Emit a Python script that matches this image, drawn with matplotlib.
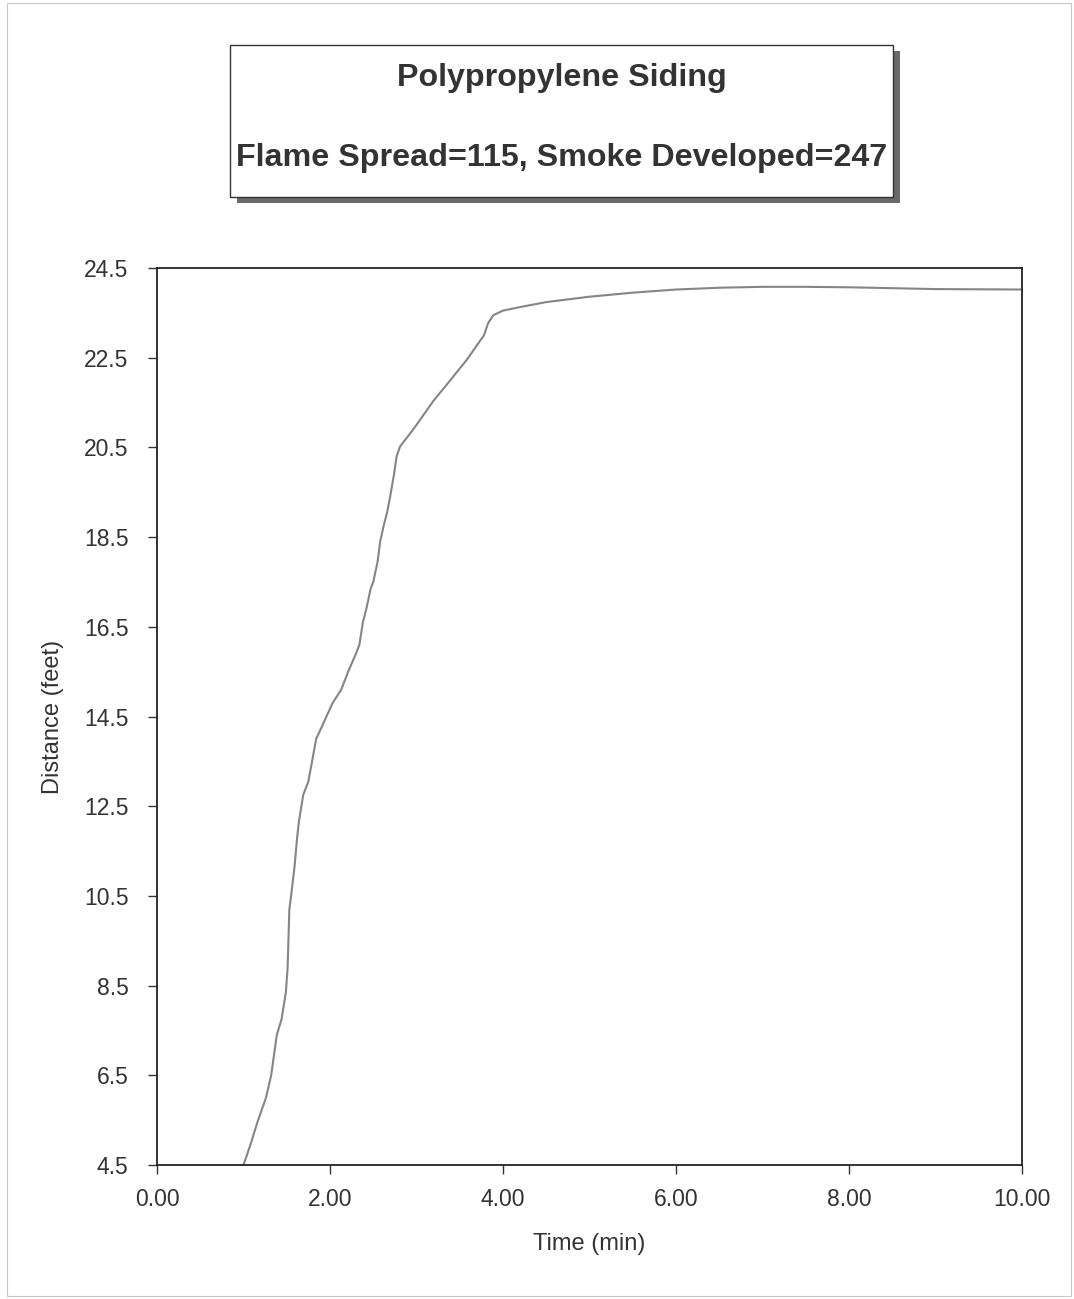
import numpy as np
import matplotlib.pyplot as plt
from matplotlib.patches import Rectangle

plt.rcParams['font.family'] = ['Liberation Sans', 'DejaVu Sans']

# flame front distance vs time
time_min = [1.00, 1.08, 1.16, 1.26, 1.32, 1.385, 1.44, 1.49, 1.51, 1.53, 1.55,
            1.59, 1.62, 1.64, 1.69, 1.75, 1.84, 1.90, 2.03, 2.13, 2.21, 2.30,
            2.34, 2.38, 2.42, 2.47, 2.50, 2.55, 2.58, 2.62, 2.66, 2.70, 2.74,
            2.77, 2.81, 2.97, 3.20, 3.35, 3.58, 3.66, 3.78, 3.83, 3.89, 4.00,
            4.20, 4.50, 5.00, 5.50, 6.00, 6.50, 7.00, 7.50, 8.00, 8.50, 9.00,
            10.00]
distance_ft = [4.5, 4.95, 5.45, 6.0, 6.5, 7.4, 7.75, 8.35, 8.9, 10.2, 10.5,
               11.15, 11.8, 12.15, 12.75, 13.05, 14.0, 14.25, 14.8, 15.1, 15.5, 15.9,
               16.1, 16.6, 16.9, 17.35, 17.5, 17.95, 18.4, 18.75, 19.05, 19.45, 19.9,
               20.3, 20.52, 20.92, 21.55, 21.9, 22.45, 22.67, 23.0, 23.28, 23.45, 23.55,
               23.63, 23.74, 23.86, 23.95, 24.02, 24.06, 24.08, 24.08, 24.07, 24.05, 24.03,
               24.02]

title1 = 'Polypropylene Siding'
title2 = 'Flame Spread=115, Smoke Developed=247'
x_ticks = [0, 2, 4, 6, 8, 10]
y_ticks = [4.5, 6.5, 8.5, 10.5, 12.5, 14.5, 16.5, 18.5, 20.5, 22.5, 24.5]

W, H = 1074, 1299
fig = plt.figure(figsize=(W / 100, H / 100), dpi=100)
fig.patch.set_facecolor('white')

# light border round the page
fig.add_artist(Rectangle((7 / W, 3 / H), 1064 / W, 1293 / H, transform=fig.transFigure,
                         fill=False, edgecolor='#c8c8c8', linewidth=0.8))

# title box with drop shadow
bx0, bx1, by0, by1 = 230, 893, 45, 197
fig.add_artist(Rectangle(((bx0 + 7) / W, 1 - (by1 + 6) / H), (bx1 - bx0) / W, (by1 - by0) / H,
                         transform=fig.transFigure, facecolor='#6a6a6a', edgecolor='none'))
fig.add_artist(Rectangle((bx0 / W, 1 - by1 / H), (bx1 - bx0) / W, (by1 - by0) / H,
                         transform=fig.transFigure, facecolor='white', edgecolor='#333333',
                         linewidth=1.0))
fig.text(562 / W, 1 - 78 / H, title1, ha='center', va='center', fontsize=23.2,
         fontweight='bold', color='#333333')
fig.text(562 / W, 1 - 158 / H, title2, ha='center', va='center', fontsize=23.2,
         fontweight='bold', color='#333333')

ax = fig.add_axes([157 / W, 134 / H, 865 / W, 897 / H])
ax.plot(time_min, distance_ft, color='#858585', linewidth=1.5)
ax.set_xlim(0, 10)
ax.set_ylim(4.5, 24.5)
ax.set_xticks(x_ticks)
ax.set_xticklabels(['%.2f' % v for v in x_ticks])
ax.set_yticks(y_ticks)
ax.set_yticklabels(['%.1f' % v for v in y_ticks])
ax.tick_params(direction='out', length=6.5, width=1, labelsize=16.5, colors='#333333')
ax.tick_params(axis='x', pad=10)
ax.tick_params(axis='y', pad=14)
for s in ax.spines.values():
    s.set_linewidth(1.3)
    s.set_color('#222222')
ax.set_xlabel('Time (min)', fontsize=17, color='#333333', labelpad=16)
ax.set_ylabel('Distance (feet)', fontsize=17, color='#333333', labelpad=14)

plt.savefig('out.png', dpi=100)
